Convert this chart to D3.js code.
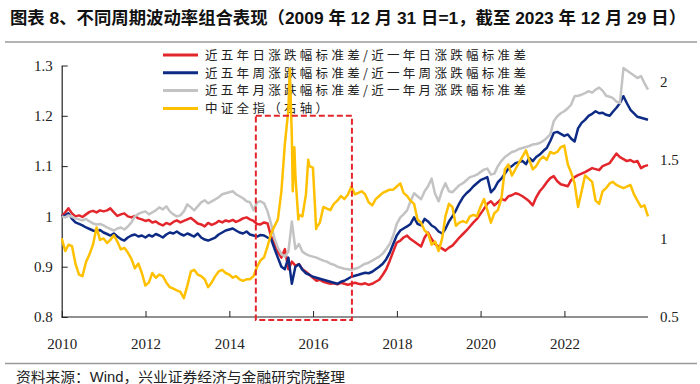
<!DOCTYPE html>
<html>
<head>
<meta charset="utf-8">
<script src="https://cdn.jsdelivr.net/npm/d3@7"></script>
<style>
  body { margin: 0; background: #fff; }
  svg { display: block; }
</style>
</head>
<body>
<div id="chart"></div>
<script>
// 数据：2009-12-31 = 1，之后为各月末
const dayRatio = [1.000,
  1.008, 1.016, 1.006, 1.000, 1.002, 0.999, 1.004, 1.009, 1.011, 1.008, 1.012, 1.010, // 2010
  1.012, 1.016, 1.008, 1.001, 1.004, 1.006, 1.000, 0.998, 1.001, 0.996, 0.994, 0.991, // 2011
  0.993, 0.988, 0.990, 0.985, 0.982, 0.987, 0.984, 0.989, 0.992, 0.988, 0.991, 0.994, // 2012
  0.997, 0.992, 0.986, 0.984, 0.980, 0.987, 0.983, 0.986, 0.991, 0.988, 0.992, 0.990, // 2013
  0.993, 0.989, 0.992, 0.996, 0.998, 0.994, 0.991, 0.985, 0.984, 0.988, 0.986, 0.960, // 2014
  0.945, 0.930, 0.918, 0.935, 0.895, 0.910, 0.902, 0.905, 0.895, 0.890, 0.884, 0.878, // 2015
  0.872, 0.874, 0.870, 0.868, 0.866, 0.867, 0.865, 0.868, 0.866, 0.864, 0.866, 0.868, // 2016
  0.866, 0.865, 0.867, 0.864, 0.866, 0.870, 0.874, 0.884, 0.895, 0.912, 0.930, 0.948, // 2017
  0.952, 0.958, 0.962, 0.955, 0.950, 0.945, 0.940, 0.958, 0.968, 0.955, 0.945, 0.940, // 2018
  0.936, 0.932, 0.938, 0.942, 0.950, 0.958, 0.965, 0.972, 0.980, 0.988, 0.995, 1.005, // 2019
  1.015, 1.025, 1.030, 1.022, 1.028, 1.035, 1.032, 1.040, 1.042, 1.046, 1.044, 1.040, // 2020
  1.035, 1.030, 1.022, 1.038, 1.050, 1.058, 1.068, 1.076, 1.080, 1.070, 1.064, 1.062, // 2021
  1.060, 1.072, 1.078, 1.082, 1.085, 1.088, 1.092, 1.096, 1.094, 1.092, 1.100, 1.103, // 2022
  1.106, 1.115, 1.125, 1.118, 1.114, 1.110, 1.112, 1.108, 1.110, 1.096, 1.100, 1.102  // 2023
];
const weekRatio = [1.000,
  1.002, 1.006, 0.995, 0.988, 0.985, 0.982, 0.978, 0.975, 0.972, 0.970, 0.973, 0.968,
  0.965, 0.962, 0.966, 0.960, 0.955, 0.952, 0.958, 0.962, 0.964, 0.960, 0.962, 0.958,
  0.963, 0.960, 0.965, 0.962, 0.958, 0.964, 0.968, 0.966, 0.970, 0.965, 0.962, 0.966,
  0.963, 0.960, 0.966, 0.958, 0.954, 0.952, 0.955, 0.958, 0.964, 0.968, 0.972, 0.974,
  0.976, 0.972, 0.968, 0.966, 0.970, 0.964, 0.962, 0.960, 0.963, 0.962, 0.958, 0.955,
  0.935, 0.918, 0.900, 0.895, 0.918, 0.866, 0.900, 0.905, 0.894, 0.887, 0.884, 0.880,
  0.878, 0.876, 0.874, 0.872, 0.870, 0.868, 0.866, 0.870, 0.872, 0.876, 0.880, 0.882,
  0.884, 0.886, 0.888, 0.887, 0.890, 0.895, 0.900, 0.906, 0.915, 0.928, 0.945, 0.962,
  0.972, 0.976, 0.980, 0.985, 0.998, 0.985, 0.982, 0.995, 0.990, 0.982, 0.978, 0.970,
  0.966, 0.975, 0.990, 1.000, 1.012, 1.026, 1.038, 1.046, 1.052, 1.060, 1.066, 1.072,
  1.075, 1.078, 1.048, 1.055, 1.068, 1.075, 1.085, 1.095, 1.100, 1.106, 1.108, 1.110,
  1.104, 1.116, 1.110, 1.118, 1.123, 1.130, 1.136, 1.150, 1.166, 1.168, 1.164, 1.160,
  1.163, 1.155, 1.149, 1.175, 1.186, 1.192, 1.200, 1.204, 1.209, 1.205, 1.206, 1.202,
  1.200, 1.208, 1.216, 1.225, 1.239, 1.225, 1.212, 1.205, 1.198, 1.196, 1.194, 1.192
];
const monthRatio = [1.000,
  0.998, 1.002, 0.999, 0.996, 0.994, 0.992, 0.995, 0.990, 0.986, 0.984, 0.985, 0.982,
  0.978, 0.975, 0.972, 0.976, 0.978, 0.974, 0.980, 0.988, 1.000, 1.005, 1.008, 1.010,
  1.004, 1.008, 1.012, 1.018, 1.014, 1.020, 1.010, 1.004, 1.000, 1.002, 1.010, 1.024,
  1.018, 1.012, 1.020, 1.028, 1.032, 1.026, 1.030, 1.034, 1.038, 1.044, 1.046, 1.048,
  1.050, 1.044, 1.040, 1.036, 1.030, 1.028, 1.012, 1.028, 1.030, 1.026, 1.010, 0.985,
  0.955, 0.938, 0.925, 0.920, 0.930, 0.990, 0.935, 0.945, 0.930, 0.925, 0.922, 0.920,
  0.918, 0.915, 0.912, 0.910, 0.906, 0.904, 0.900, 0.898, 0.896, 0.895, 0.894, 0.896,
  0.898, 0.902, 0.906, 0.908, 0.912, 0.916, 0.920, 0.926, 0.935, 0.945, 0.962, 0.985,
  0.998, 1.004, 1.012, 1.030, 1.046, 1.040, 1.034, 1.050, 1.060, 1.075, 1.045, 1.030,
  1.052, 1.066, 1.050, 1.048, 1.055, 1.062, 1.066, 1.072, 1.078, 1.080, 1.083, 1.088,
  1.093, 1.095, 1.083, 1.085, 1.100, 1.110, 1.118, 1.123, 1.128, 1.130, 1.134, 1.136,
  1.138, 1.140, 1.143, 1.144, 1.146, 1.150, 1.156, 1.163, 1.189, 1.199, 1.205, 1.209,
  1.215, 1.222, 1.239, 1.240, 1.242, 1.245, 1.249, 1.246, 1.252, 1.256, 1.250, 1.240,
  1.238, 1.235, 1.228, 1.225, 1.295, 1.290, 1.285, 1.280, 1.275, 1.279, 1.265, 1.252
];
const csiAll = [1.000,
  0.92, 0.96, 0.95, 0.84, 0.77, 0.76, 0.85, 0.90, 0.96, 1.07, 0.99, 1.00,
  0.97, 0.99, 1.02, 0.98, 0.93, 0.94, 0.91, 0.87, 0.81, 0.84, 0.78, 0.70,
  0.72, 0.78, 0.75, 0.77, 0.76, 0.72, 0.69, 0.68, 0.67, 0.66, 0.62, 0.70,
  0.79, 0.80, 0.77, 0.76, 0.74, 0.69, 0.72, 0.76, 0.79, 0.80, 0.78, 0.77,
  0.75, 0.76, 0.74, 0.73, 0.74, 0.74, 0.76, 0.82, 0.86, 0.88, 0.95, 1.03,
  1.08, 1.12, 1.30, 1.60, 1.82, 1.65, 1.40, 1.15, 1.14, 1.28, 1.46, 1.45,
  1.07, 1.10, 1.20, 1.19, 1.18, 1.22, 1.24, 1.27, 1.25, 1.28, 1.33, 1.28,
  1.29, 1.30, 1.28, 1.23, 1.21, 1.25, 1.27, 1.29, 1.30, 1.31, 1.31, 1.33,
  1.35, 1.29, 1.27, 1.24, 1.22, 1.12, 1.10, 1.05, 1.03, 0.96, 0.98, 0.92,
  1.00, 1.14, 1.22, 1.20, 1.08, 1.10, 1.11, 1.10, 1.14, 1.15, 1.14, 1.20,
  1.25, 1.18, 1.10, 1.16, 1.18, 1.25, 1.44, 1.47, 1.40, 1.44, 1.48, 1.52,
  1.56, 1.50, 1.44, 1.46, 1.50, 1.52, 1.50, 1.55, 1.54, 1.55, 1.58, 1.59,
  1.47, 1.42, 1.35, 1.20, 1.30, 1.40, 1.38, 1.36, 1.24, 1.22, 1.30, 1.32,
  1.35, 1.36, 1.34, 1.33, 1.32, 1.33, 1.34, 1.28, 1.24, 1.20, 1.21, 1.14
];
// 2015 年股灾期间的月中点
const csiExtraDates = ['2015-06-12', '2015-07-08', '2015-07-22', '2015-08-26', '2015-11-20', '2016-01-28'];
const csiExtraValues = [2.08, 1.30, 1.58, 1.12, 1.50, 1.06];

const leftTicks = [0.8, 0.9, 1.0, 1.1, 1.2, 1.3];
const rightTicks = [0.5, 1.0, 1.5, 2.0];
const yearTicks = [2010, 2012, 2014, 2016, 2018, 2020, 2022];
const boxRange = ['2014-08-20', '2016-12-05'];

const seriesNames = [
  '近五年日涨跌幅标准差/近一年日涨跌幅标准差',
  '近五年周涨跌幅标准差/近一年周涨跌幅标准差',
  '近五年月涨跌幅标准差/近一年月涨跌幅标准差',
  '中证全指（右轴）'
];
const colors = ['#e3262b', '#0d2b85', '#c3c3c3', '#ffc000'];

const W = 700, H = 384;
const parse = d3.timeParse('%Y-%m-%d');
const dates = [new Date(2009, 11, 31)].concat(
  d3.timeMonth.range(new Date(2010, 1, 1), new Date(2024, 1, 1)).map(d => d3.timeDay.offset(d, -1))
);

const svg = d3.select('#chart').append('svg').attr('width', W).attr('height', H);
const cjk = '"Noto Sans CJK SC", "Noto Sans", sans-serif';
const serif = '"Liberation Serif", "DejaVu Serif", serif';

// 标题
svg.append('text')
  .attr('x', 10).attr('y', 24)
  .attr('textLength', 676).attr('lengthAdjust', 'spacingAndGlyphs')
  .style('font-family', '"Liberation Sans", ' + cjk)
  .style('font-size', '17px').style('font-weight', 'bold').style('fill', '#111')
  .text('图表 8、不同周期波动率组合表现（2009 年 12 月 31 日=1，截至 2023 年 12 月 29 日）');
svg.append('line').attr('x1', 5).attr('x2', 697).attr('y1', 42).attr('y2', 42)
  .attr('stroke', '#9a9a9a').attr('stroke-width', 1.5);
svg.append('line').attr('x1', 5).attr('x2', 697).attr('y1', 363.5).attr('y2', 363.5)
  .attr('stroke', '#9a9a9a').attr('stroke-width', 1.5);
svg.append('text')
  .attr('x', 16).attr('y', 382)
  .attr('textLength', 329).attr('lengthAdjust', 'spacingAndGlyphs')
  .style('font-family', '"Liberation Sans", ' + cjk)
  .style('font-size', '14px').style('fill', '#222')
  .text('资料来源：Wind，兴业证券经济与金融研究院整理');

// 比例尺
const x = d3.scaleTime().domain([dates[0], dates[dates.length - 1]]).range([61.7, 648]);
const yL = d3.scaleLinear().domain([0.8, 1.3]).range([317, 65.5]);
const yR = d3.scaleLinear().domain([0.5, 2.1]).range([317, 65.5]);
const numFmt = d => String(+d.toFixed(1));

// 图例
const legend = svg.append('g');
seriesNames.forEach((name, i) => {
  const cy = 55 + i * 17.8;
  legend.append('line').attr('x1', 163).attr('x2', 198).attr('y1', cy).attr('y2', cy)
    .attr('stroke', colors[i]).attr('stroke-width', 3);
  legend.append('text').attr('x', 205).attr('y', cy + 4.8)
    .style('font-family', cjk).style('font-size', '12.5px')
    .style('letter-spacing', '3.3px').style('fill', '#222')
    .text(name);
});

// 坐标轴
const axisL = svg.append('g').attr('transform', 'translate(61.7,0)')
  .call(d3.axisLeft(yL).tickValues(leftTicks).tickFormat(numFmt).tickSize(-6).tickSizeOuter(0).tickPadding(9));
const axisB = svg.append('g').attr('transform', 'translate(0,317)')
  .call(d3.axisBottom(x).tickValues(yearTicks.map(y => new Date(y, 0, 1)))
    .tickFormat(d3.timeFormat('%Y')).tickSize(-6).tickSizeOuter(0).tickPadding(21));
const axisR = svg.append('g').attr('transform', 'translate(648,0)')
  .call(d3.axisRight(yR).tickValues(rightTicks).tickFormat(numFmt).tickSize(0).tickPadding(12));
axisR.select('.domain').remove();
[axisL, axisB, axisR].forEach(g => {
  g.selectAll('text').style('font-family', serif).style('font-size', '15px').style('fill', '#222');
  g.selectAll('line').attr('stroke', '#222');
  g.select('.domain').attr('stroke', '#222').attr('stroke-width', 1.2);
});
axisB.select('.domain').attr('d', 'M61.7,0H648');

// 折线
svg.append('clipPath').attr('id', 'plotClip').append('rect')
  .attr('x', 61).attr('y', 60).attr('width', 592).attr('height', 258);
const plot = svg.append('g').attr('clip-path', 'url(#plotClip)');

const leftSeries = [dayRatio, weekRatio, monthRatio];
leftSeries.forEach((vals, i) => {
  const pts = vals.map((v, j) => ({ date: dates[j], v }));
  plot.append('path')
    .attr('d', d3.line().x(d => x(d.date)).y(d => yL(d.v))(pts))
    .attr('fill', 'none').attr('stroke', colors[i]).attr('stroke-width', 2.5)
    .attr('stroke-linejoin', 'round');
});

const csiPts = csiAll.map((v, j) => ({ date: dates[j], v }))
  .concat(csiExtraDates.map((d, j) => ({ date: parse(d), v: csiExtraValues[j] })))
  .sort((a, b) => a.date - b.date);
plot.append('path')
  .attr('d', d3.line().x(d => x(d.date)).y(d => yR(d.v))(csiPts))
  .attr('fill', 'none').attr('stroke', colors[3]).attr('stroke-width', 2.5)
  .attr('stroke-linejoin', 'round');

// 红色虚线框
const bx0 = x(parse(boxRange[0])), bx1 = x(parse(boxRange[1]));
svg.append('rect')
  .attr('x', bx0).attr('y', yL(1.2))
  .attr('width', bx1 - bx0).attr('height', yL(0.794) - yL(1.2))
  .attr('fill', 'none').attr('stroke', '#e3262b').attr('stroke-width', 2)
  .attr('stroke-dasharray', '6,3');
</script>
</body>
</html>
